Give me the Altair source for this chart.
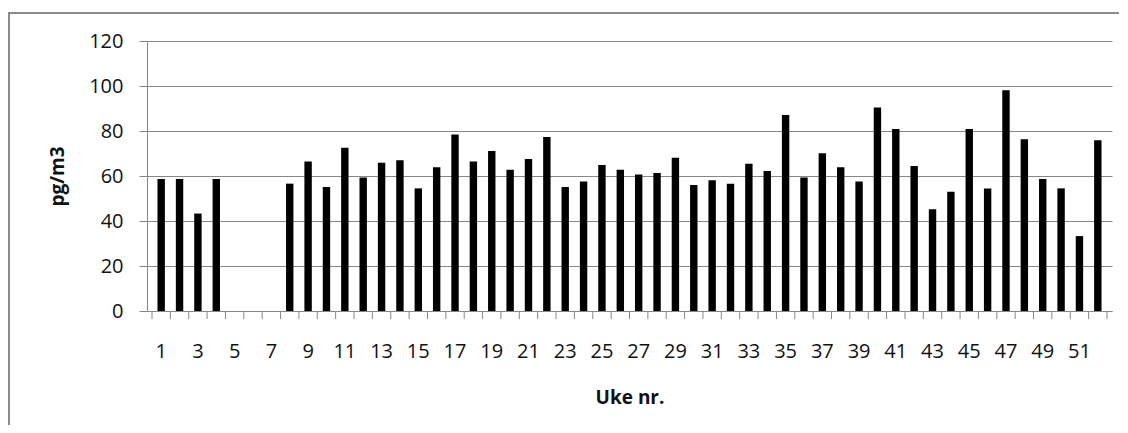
import altair as alt
import pandas as pd

weeks = list(range(1, 53))
values = [58.7, 58.7, 43.3, 58.7, None, None, None, 56.6, 66.4, 55.1,
          72.6, 59.3, 65.9, 67.0, 54.5, 63.9, 78.4, 66.4, 71.1, 62.8,
          67.6, 77.3, 55.1, 57.6, 64.9, 62.8, 60.7, 61.3, 68.1, 56.0,
          58.1, 56.6, 65.5, 62.2, 87.1, 59.3, 70.1, 63.9, 57.6, 90.4,
          80.9, 64.4, 45.2, 53.0, 80.9, 54.5, 98.1, 76.3, 58.7, 54.5,
          33.3, 75.9]
x_labels = list(range(1, 53, 2))
y_ticks = [0, 20, 40, 60, 80, 100, 120]
boundaries = [w - 0.5 for w in weeks] + [weeks[-1] + 0.5]

df = pd.DataFrame({"week": weeks, "value": values}).dropna()
tick_df = pd.DataFrame({"b": boundaries})
lab_df = pd.DataFrame({"week": x_labels})

W, H = 965, 270
FONT = "Open Sans"
GRAY = "#878787"

xscale = alt.Scale(domain=[0.5, 52.5], nice=False, zero=False)

bars = alt.Chart(df).mark_bar(size=7.4, color="black").encode(
    x=alt.X("week:Q", scale=xscale,
            axis=alt.Axis(values=x_labels, ticks=False, grid=False, labels=False,
                          domainColor=GRAY, domainWidth=1,
                          title="Uke nr.", titleFont=FONT, titleFontSize=19,
                          titleFontWeight="bold", titleColor="#111",
                          titleX=W / 2, titleY=86, titleBaseline="middle",
                          titleAlign="center")),
    y=alt.Y("value:Q", scale=alt.Scale(domain=[0, 120], nice=False),
            axis=alt.Axis(values=y_ticks, tickSize=8, tickColor=GRAY,
                          domainColor=GRAY, gridColor=GRAY, gridWidth=1,
                          labelFont=FONT, labelFontSize=20, labelColor="#111",
                          labelPadding=16, labelOverlap=False,
                          title="pg/m3", titleFont=FONT, titleFontSize=19,
                          titleFontWeight="bold", titleColor="#111",
                          titleAngle=-90, titleX=-90, titleY=H / 2,
                          titleBaseline="middle", titleAlign="center")),
)

xlabels = alt.Chart(lab_df).mark_text(
    font=FONT, fontSize=20, color="#111", baseline="middle", align="center"
).encode(
    x=alt.X("week:Q", scale=xscale),
    y=alt.value(H + 41),
    text=alt.Text("week:Q"),
)

xticks = alt.Chart(tick_df).mark_rule(color=GRAY, strokeWidth=1).encode(
    x=alt.X("b:Q", scale=xscale),
    y=alt.value(H),
    y2=alt.value(H + 8),
)

frame_left = alt.Chart(tick_df.head(1)).mark_rule(color="#8a8a8a", strokeWidth=2).encode(
    x=alt.value(-138), y=alt.value(-28), y2=alt.value(390)
)
frame_top = alt.Chart(tick_df.head(1)).mark_rule(color="#8a8a8a", strokeWidth=2).encode(
    x=alt.value(-139), x2=alt.value(972), y=alt.value(-28)
)

chart = alt.layer(bars, xticks, xlabels, frame_left, frame_top).properties(
    width=W, height=H,
    padding={"left": 139, "top": 33, "right": 8, "bottom": 114},
    autosize=alt.AutoSizeParams(type="none"),
).configure_view(stroke=None)

chart.save("out.html", embed_options={"renderer": "svg", "actions": False})
